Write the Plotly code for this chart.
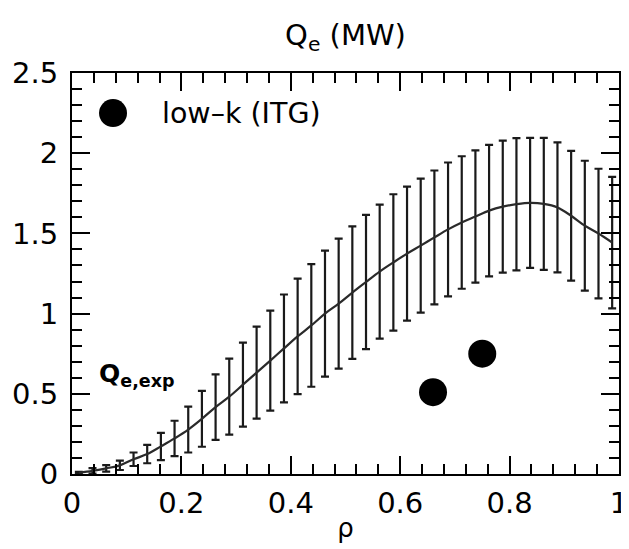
import plotly.graph_objects as go

# radial grid of the simulated profile (bar positions)
rho = [0.0125 + 0.025 * k for k in range(40)]
q_mean = [0.008, 0.02, 0.035, 0.054, 0.092, 0.124, 0.172, 0.222, 0.277, 0.344,
          0.417, 0.482, 0.557, 0.632, 0.707, 0.783, 0.858, 0.926, 1.000, 1.062,
          1.131, 1.197, 1.262, 1.319, 1.374, 1.424, 1.475, 1.525, 1.568, 1.605,
          1.642, 1.667, 1.682, 1.690, 1.684, 1.662, 1.610, 1.548, 1.499, 1.443]
q_err = [0.006, 0.017, 0.02, 0.029, 0.042, 0.057, 0.085, 0.110, 0.143, 0.174,
         0.204, 0.237, 0.262, 0.287, 0.312, 0.336, 0.360, 0.382, 0.393, 0.405,
         0.413, 0.418, 0.418, 0.425, 0.418, 0.418, 0.417, 0.417, 0.413, 0.412,
         0.410, 0.412, 0.412, 0.405, 0.412, 0.405, 0.405, 0.405, 0.404, 0.410]

# low-k (ITG) simulation points
itg_rho = [0.66, 0.75]
itg_q = [0.51, 0.75]

x_ticks = [0, 0.2, 0.4, 0.6, 0.8, 1]
y_ticks = [0, 0.5, 1, 1.5, 2, 2.5]
x_range = [0, 1]
y_range = [0, 2.5]

fig = go.Figure()

fig.add_trace(go.Scatter(
    x=rho, y=q_mean, mode="lines",
    line=dict(color="#2a2a2a", width=2.2, shape="spline"),
    error_y=dict(type="data", array=q_err, visible=True,
                 color="#1a1a1a", thickness=2.2, width=4),
    name="Q_e,exp", showlegend=False, hoverinfo="skip"))

fig.add_trace(go.Scatter(
    x=itg_rho, y=itg_q, mode="markers",
    marker=dict(color="black", size=28),
    name="low-k (ITG)", showlegend=False))

# legend key drawn manually
fig.add_shape(type="circle", xref="x", yref="y", xsizemode="pixel", ysizemode="pixel",
              xanchor=0.075, yanchor=2.25, x0=-14, x1=14, y0=-14, y1=14,
              fillcolor="black", line=dict(width=0))
fig.add_annotation(x=0.16, y=2.25, xref="x", yref="y", text="low–k (ITG)",
                   showarrow=False, xanchor="left", yanchor="middle",
                   font=dict(family="DejaVu Sans", size=28.5, color="black"))

fig.add_annotation(x=0.045, y=0.62, xref="x", yref="y",
                   text="<b>Q<sub>e,exp</sub></b>",
                   showarrow=False, xanchor="left", yanchor="middle",
                   font=dict(family="DejaVu Sans", size=25, color="black"))

axis_common = dict(
    showline=True, linecolor="black", linewidth=2, mirror="allticks",
    ticks="inside", ticklen=18, tickwidth=2, tickcolor="black",
    showgrid=False, zeroline=False, automargin=False,
    tickfont=dict(family="DejaVu Sans", size=29, color="black"),
)

fig.update_xaxes(range=x_range, tickvals=x_ticks, ticklabelstandoff=2,
                 minor=dict(ticks="inside", ticklen=10, tickwidth=2, tickcolor="black", dtick=0.04),
                 title=dict(text="ρ", font=dict(family="DejaVu Sans", size=26, color="black"), standoff=0),
                 **axis_common)
fig.update_yaxes(range=y_range, tickvals=y_ticks, ticklabelstandoff=6,
                 minor=dict(ticks="inside", ticklen=10, tickwidth=2, tickcolor="black", dtick=0.1),
                 **axis_common)

# the page adds an 8 px body margin, so the figure is sized to fit the window
FIG_W, FIG_H = 621, 541
fig.update_layout(
    width=FIG_W, height=FIG_H,
    margin=dict(l=64, r=10, t=65, b=75, autoexpand=False),
    plot_bgcolor="white", paper_bgcolor="white",
    title=dict(text="Q<sub>e</sub> (MW)", x=0.5, xref="paper", xanchor="center",
               y=1 - 27 / FIG_H, yref="container", yanchor="middle",
               font=dict(family="DejaVu Sans", size=29, color="black")),
)

fig.write_html("out.html")
